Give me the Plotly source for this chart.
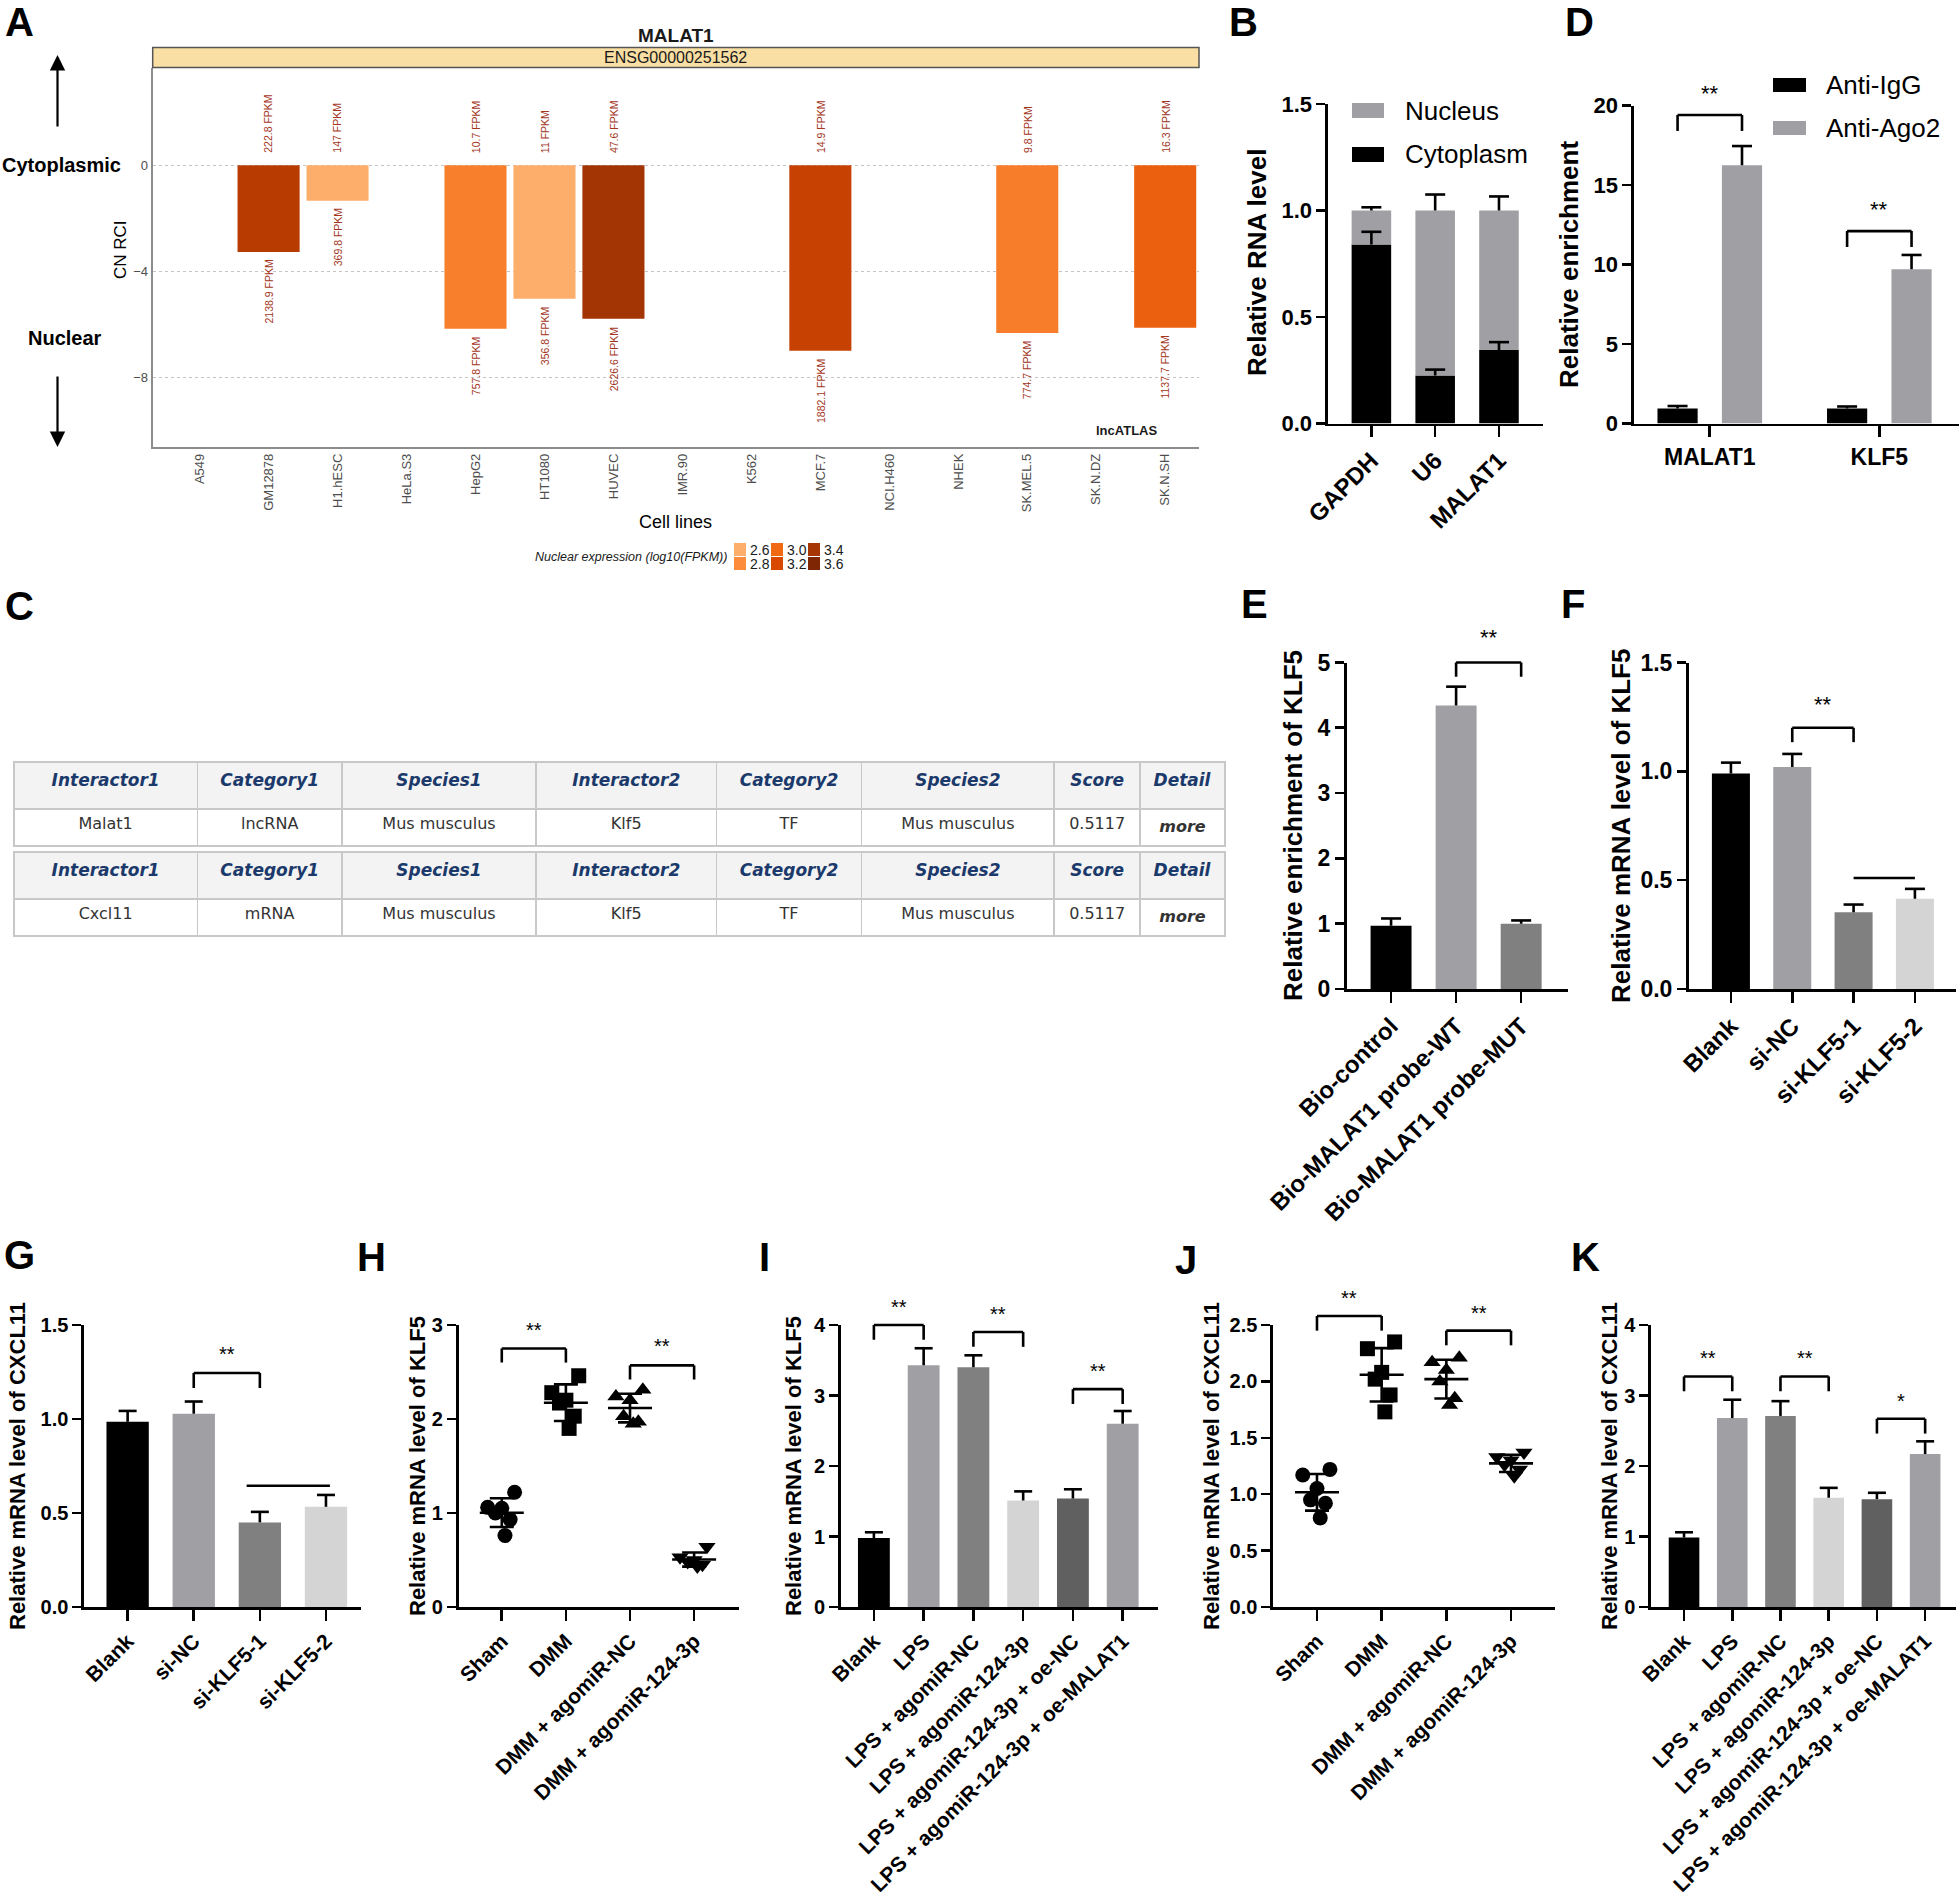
import numpy as np
import plotly.graph_objects as go

W, H = 1960, 1895
FONT = "Liberation Sans, Arial, Helvetica, sans-serif"
TFONT = "DejaVu Sans, Verdana, sans-serif"
LW = 2.6

# ======================= DATA =======================
# Panel A (lncATLAS)
A_cell_lines = ["A549", "GM12878", "H1.hESC", "HeLa.S3", "HepG2", "HT1080", "HUVEC", "IMR.90",
                "K562", "MCF.7", "NCI.H460", "NHEK", "SK.MEL.5", "SK.N.DZ", "SK.N.SH"]
A_cn_rci = [None, -3.27, -1.34, None, -6.16, -5.03, -5.79, None, None, -6.99, None, None, -6.32, None, -6.13]
A_cyto_fpkm = [None, 222.8, 147, None, 10.7, 11, 47.6, None, None, 14.9, None, None, 9.8, None, 16.3]
A_nuc_fpkm = [None, 2138.9, 369.8, None, 757.8, 356.8, 2626.6, None, None, 1882.1, None, None, 774.7, None, 1137.7]
A_legend_breaks = [2.6, 2.8, 3.0, 3.2, 3.4, 3.6]
A_y_ticks = [0, -4, -8]

# Panel B
B_genes = ["GAPDH", "U6", "MALAT1"]
B_series = ["Cytoplasm", "Nucleus"]
B_cytoplasm = [0.84, 0.225, 0.345]
B_cytoplasm_err = [0.06, 0.028, 0.037]
B_nucleus = [0.16, 0.775, 0.655]
B_nucleus_err = [0.015, 0.075, 0.066]

# Panel D
D_targets = ["MALAT1", "KLF5"]
D_series = ["Anti-IgG", "Anti-Ago2"]
D_igg = [0.95, 0.95]
D_igg_err = [0.15, 0.12]
D_ago2 = [16.25, 9.7]
D_ago2_err = [1.2, 0.9]

# Panel C (tables)
C_header = ["Interactor1", "Category1", "Species1", "Interactor2", "Category2", "Species2", "Score", "Detail"]
C_row1 = ["Malat1", "lncRNA", "Mus musculus", "Klf5", "TF", "Mus musculus", "0.5117", "more"]
C_row2 = ["Cxcl11", "mRNA", "Mus musculus", "Klf5", "TF", "Mus musculus", "0.5117", "more"]

# Panel E
E_groups = ["Bio-control", "Bio-MALAT1 probe-WT", "Bio-MALAT1 probe-MUT"]
E_values = [0.97, 4.34, 1.0]
E_err = [0.11, 0.29, 0.05]

# Panel F
F_groups = ["Blank", "si-NC", "si-KLF5-1", "si-KLF5-2"]
F_values = [0.99, 1.02, 0.353, 0.415]
F_err = [0.05, 0.06, 0.035, 0.045]

# Panel G
G_groups = ["Blank", "si-NC", "si-KLF5-1", "si-KLF5-2"]
G_values = [0.985, 1.028, 0.45, 0.533]
G_err = [0.058, 0.065, 0.056, 0.063]

# Panel H (scatter, n=6)
H_groups = ["Sham", "DMM", "DMM + agomiR-NC", "DMM + agomiR-124-3p"]
H_sham = [1.22, 1.06, 1.05, 1.00, 0.93, 0.76]
H_dmm = [2.46, 2.28, 2.20, 2.17, 2.03, 1.90]
H_nc = [2.31, 2.24, 2.20, 2.03, 1.97, 1.95]
H_ago = [0.64, 0.53, 0.50, 0.48, 0.45, 0.43]

# Panel I
I_groups = ["Blank", "LPS", "LPS + agomiR-NC", "LPS + agomiR-124-3p",
            "LPS + agomiR-124-3p + oe-NC", "LPS + agomiR-124-3p + oe-MALAT1"]
I_values = [0.98, 3.43, 3.40, 1.51, 1.54, 2.60]
I_err = [0.08, 0.24, 0.17, 0.13, 0.13, 0.18]

# Panel J (scatter, n=6)
J_groups = ["Sham", "DMM", "DMM + agomiR-NC", "DMM + agomiR-124-3p"]
J_sham = [1.22, 1.17, 1.05, 0.95, 0.92, 0.79]
J_dmm = [2.35, 2.29, 2.08, 2.02, 1.88, 1.73]
J_nc = [2.21, 2.17, 2.10, 2.00, 1.85, 1.79]
J_ago = [1.37, 1.33, 1.30, 1.26, 1.22, 1.16]

# Panel K
K_groups = ["Blank", "LPS", "LPS + agomiR-NC", "LPS + agomiR-124-3p",
            "LPS + agomiR-124-3p + oe-NC", "LPS + agomiR-124-3p + oe-MALAT1"]
K_values = [0.985, 2.68, 2.71, 1.55, 1.53, 2.17]
K_err = [0.075, 0.26, 0.21, 0.14, 0.09, 0.18]

# significance brackets: (group i, group j, level, label)
D_brackets = [(0, 0, 19.4, "**"), (1, 1, 12.1, "**")]
E_brackets = [(1, 2, 5.0, "**")]
F_brackets = [(1, 2, 1.20, "**")]
F_lines = [(2, 3, 0.51)]
G_brackets = [(1, 2, 1.245, "**")]
G_lines = [(2, 3, 0.645)]
H_brackets = [(0, 1, 2.75, "**"), (2, 3, 2.57, "**")]
I_brackets = [(0, 1, 4.0, "**"), (2, 3, 3.9, "**"), (4, 5, 3.09, "**")]
J_brackets = [(0, 1, 2.58, "**"), (2, 3, 2.45, "**")]
K_brackets = [(0, 1, 3.27, "**"), (2, 3, 3.27, "**"), (4, 5, 2.67, "*")]

# ======================= STYLE =======================
A_legend_colors = ["#FDAE6B", "#FD8D3C", "#F16913", "#D94801", "#A63603", "#7F2704"]
BLACK, GRAY, DGRAY, LGRAY, DDGRAY = "#000000", "#A0A0A4", "#808080", "#D4D4D4", "#606060"
E_colors = [BLACK, GRAY, DGRAY]
FG_colors = [BLACK, GRAY, DGRAY, LGRAY]
IK_colors = [BLACK, GRAY, DGRAY, LGRAY, DDGRAY, GRAY]
JITTER = [0.2, -0.22, 0.0, -0.1, 0.13, 0.05]
SYMBOLS = ["circle", "square", "triangle-up", "triangle-down"]
D_OFF = 0.19


def dx(x0, x1):
    return [x0 / W, x1 / W]


def dy(top, bottom):
    return [1 - bottom / H, 1 - top / H]


def px(x):
    return x / W


def py(y):
    return 1 - y / H


fig = go.Figure()
shapes, annotations = [], []
layout = dict(template="none", width=W, height=H, margin=dict(l=0, r=0, t=0, b=0, autoexpand=False),
              paper_bgcolor="white", plot_bgcolor="white", showlegend=False, barmode="overlay",
              font=dict(family=FONT, color="black"))
AXINFO = {}


def ax_names(k):
    s = "" if k == 1 else str(k)
    return "x" + s, "y" + s, "xaxis" + s, "yaxis" + s


def ypaper(k, v):
    (d0, d1), (r0, r1) = AXINFO[k]
    return d0 + (v - r0) / (r1 - r0) * (d1 - d0)


def ann(**kw):
    base = dict(xref="paper", yref="paper", showarrow=False, xanchor="center", yanchor="middle")
    base.update(kw)
    annotations.append(base)


def gp_axes(k, xdom, ydom, xrng, yrng, cats, dtick, fmt, tick_fs, cat_fs, angle):
    xr, yr, xk, yk = ax_names(k)
    AXINFO[k] = (ydom, yrng)
    layout[xk] = dict(domain=xdom, anchor=yr, range=xrng, tickmode="array",
                      tickvals=list(range(len(cats))), automargin=False,
                      ticktext=cats, tickangle=angle, showline=True, linecolor="black", linewidth=LW,
                      ticks="outside", ticklen=11, tickwidth=LW, tickcolor="black", showgrid=False,
                      zeroline=False, fixedrange=True,
                      tickfont=dict(family=FONT, size=cat_fs, color="black", weight="bold"))
    layout[yk] = dict(domain=ydom, anchor=xr, range=yrng, tickmode="linear", tick0=0, dtick=dtick,
                      tickformat=fmt, showline=True, linecolor="black", linewidth=LW, ticks="outside",
                      ticklen=9, tickwidth=LW, tickcolor="black", showgrid=False, zeroline=False,
                      automargin=False, fixedrange=True,
                      tickfont=dict(family=FONT, size=tick_fs, color="black", weight="bold"))


def add_err(k, xs, tops, errs, cap):
    xr, yr, _, _ = ax_names(k)
    fig.add_trace(go.Scatter(
        x=xs, y=[t + e for t, e in zip(tops, errs)], mode="markers", xaxis=xr, yaxis=yr,
        marker=dict(symbol="line-ew", size=2 * cap / 1.4, color="black", line=dict(width=LW, color="black")),
        error_y=dict(type="data", symmetric=False, array=[0] * len(errs), arrayminus=errs,
                     width=0, thickness=LW, color="black"),
        hoverinfo="skip", cliponaxis=False))


def add_bar_panel(k, cats, vals, errs, colors, width, cap):
    xr, yr, _, _ = ax_names(k)
    xs = list(range(len(cats)))
    fig.add_trace(go.Bar(x=xs, y=vals, width=width, marker=dict(color=colors, line=dict(width=0)),
                         xaxis=xr, yaxis=yr, hoverinfo="skip"))
    add_err(k, xs, vals, errs, cap)


def add_bracket(k, x0, x1, y, label, leg, fs, shift):
    xr, yr, _, _ = ax_names(k)
    ln = dict(color="black", width=LW)
    yt, yb = ypaper(k, y), ypaper(k, y - leg)
    shapes.append(dict(type="line", xref=xr, yref="paper", x0=x0, x1=x1, y0=yt, y1=yt, line=ln))
    shapes.append(dict(type="line", xref=xr, yref="paper", x0=x0, x1=x0, y0=yt, y1=yb, line=ln))
    shapes.append(dict(type="line", xref=xr, yref="paper", x0=x1, x1=x1, y0=yt, y1=yb, line=ln))
    annotations.append(dict(xref=xr, yref="paper", x=(x0 + x1) / 2, y=yt, text=label, showarrow=False,
                            xanchor="center", yanchor="middle", yshift=shift,
                            font=dict(family=FONT, size=fs, color="black")))


def add_hline(k, x0, x1, y):
    xr, yr, _, _ = ax_names(k)
    yp = ypaper(k, y)
    shapes.append(dict(type="line", xref=xr, yref="paper", x0=x0, x1=x1, y0=yp, y1=yp,
                       line=dict(color="black", width=LW)))


def ytitle(text, cx, cy, fs):
    ann(x=px(cx), y=py(cy), text="<b>%s</b>" % text, textangle=-90,
        font=dict(family=FONT, size=fs, color="black"))


def letter(t, cx, cy):
    ann(x=px(cx), y=py(cy), text="<b>%s</b>" % t, font=dict(family=FONT, size=40, color="black"))


def scatter_panel(k, groups, series):
    xr, yr, _, _ = ax_names(k)
    for gi, pts in enumerate(series):
        fig.add_trace(go.Scatter(
            x=[gi + JITTER[j] for j in range(len(pts))], y=pts, mode="markers", xaxis=xr, yaxis=yr,
            marker=dict(symbol=SYMBOLS[gi], size=15, color="black", line=dict(width=0)),
            hoverinfo="skip", cliponaxis=False))
    means = [float(np.mean(p)) for p in series]
    sds = [float(np.std(p, ddof=1)) for p in series]
    fig.add_trace(go.Scatter(
        x=list(range(len(groups))), y=means, mode="markers", xaxis=xr, yaxis=yr,
        marker=dict(symbol="line-ew", size=44 / 1.4, color="black", line=dict(width=LW, color="black")),
        error_y=dict(type="data", array=sds, width=12, thickness=LW, color="black"),
        hoverinfo="skip", cliponaxis=False))


# ======================= PANEL A =======================
A_x0, A_x1, A_top, A_bot = 152.7, 1199, 67.5, 446.5
A_colorscale = [[(b - A_legend_breaks[0]) / (A_legend_breaks[-1] - A_legend_breaks[0]), c]
                for b, c in zip(A_legend_breaks, A_legend_colors)]
A_logn = np.array([np.nan if v is None else np.log10(v) for v in A_nuc_fpkm], dtype=float)
A_y = np.array([np.nan if v is None else v for v in A_cn_rci], dtype=float)
fig.add_trace(go.Bar(x=A_cell_lines, y=A_y, width=0.9,
                     marker=dict(color=A_logn, colorscale=A_colorscale, cmin=A_legend_breaks[0],
                                 cmax=A_legend_breaks[-1], line=dict(width=0)),
                     xaxis="x", yaxis="y", hoverinfo="skip"))
layout["xaxis"] = dict(domain=dx(A_x0, A_x1), anchor="y", type="category", range=[-0.68, 14.49],
                       tickangle=-90, showline=True, linecolor="#8C8C8C", linewidth=2, ticks="",
                       showgrid=False, zeroline=False, fixedrange=True, automargin=False,
                       tickfont=dict(family=FONT, size=13, color="#4D4D4D"))
layout["yaxis"] = dict(domain=dy(A_top, A_bot), anchor="x", range=[-10.6, 3.68], tickmode="array",
                       tickvals=A_y_ticks, showline=True, linecolor="#8C8C8C", linewidth=2, ticks="",
                       showgrid=True, gridcolor="#C4C4C4", griddash="dot", gridwidth=1, zeroline=False,
                       fixedrange=True, automargin=False, tickfont=dict(family=FONT, size=13, color="#4D4D4D"))
for cl, r, c, n in zip(A_cell_lines, A_cn_rci, A_cyto_fpkm, A_nuc_fpkm):
    if r is None:
        continue
    annotations.append(dict(xref="x", yref="y", x=cl, y=0, text="%g FPKM" % c, textangle=-90,
                            showarrow=False, xanchor="center", yanchor="bottom", yshift=10,
                            font=dict(family=FONT, size=10.5, color="#A3361D")))
    annotations.append(dict(xref="x", yref="y", x=cl, y=r, text="%g FPKM" % n, textangle=-90,
                            showarrow=False, xanchor="center", yanchor="top", yshift=-6,
                            font=dict(family=FONT, size=10.5, color="#A3361D")))
shapes.append(dict(type="rect", xref="paper", yref="paper", x0=px(A_x0), x1=px(A_x1), y0=py(67.5), y1=py(47.5),
                   fillcolor="#F9DFA3", line=dict(color="#555555", width=1.5)))
ann(x=px((A_x0 + A_x1) / 2), y=py(57.5), text="ENSG00000251562", font=dict(family=FONT, size=16, color="#1a1a1a"))
ann(x=px((A_x0 + A_x1) / 2), y=py(35), text="<b>MALAT1</b>", font=dict(family=FONT, size=19, color="#1a1a1a"))
ann(x=px(61.5), y=py(165), text="<b>Cytoplasmic</b>", font=dict(family=FONT, size=20, color="black"))
ann(x=px(65), y=py(338), text="<b>Nuclear</b>", font=dict(family=FONT, size=20, color="black"))
ann(x=px(121), y=py(250), text="CN RCI", textangle=-90, font=dict(family=FONT, size=17, color="black"))
ann(x=px(675), y=py(522), text="Cell lines", font=dict(family=FONT, size=18, color="black"))
ann(x=px(1126), y=py(431), text="<b>lncATLAS</b>", font=dict(family=FONT, size=13, color="#1a1a1a"))
ann(x=px(729), y=py(557), text="<i>Nuclear expression (log10(FPKM))</i>", xanchor="right",
    font=dict(family=FONT, size=12.5, color="#1a1a1a"))
ann(x=px(57.5), y=py(55), ax=0, ay=73, axref="pixel", ayref="pixel", text="", showarrow=True,
    arrowhead=2, arrowsize=1.4, arrowwidth=2.2, arrowcolor="black")
ann(x=px(57.5), y=py(447), ax=0, ay=-72, axref="pixel", ayref="pixel", text="", showarrow=True,
    arrowhead=2, arrowsize=1.4, arrowwidth=2.2, arrowcolor="black")
for i, (b, c) in enumerate(zip(A_legend_breaks, A_legend_colors)):
    col, row = i // 2, i % 2
    sx = 734 + col * 37
    sy = 543 + row * 14
    shapes.append(dict(type="rect", xref="paper", yref="paper", x0=px(sx), x1=px(sx + 12),
                       y0=py(sy + 13), y1=py(sy), fillcolor=c, line=dict(width=0)))
    ann(x=px(sx + 14), y=py(sy + 6.5), text="%.1f" % b, xanchor="left",
        font=dict(family=FONT, size=14, color="#1a1a1a"))

# ======================= PANEL B =======================
gp_axes(2, dx(1328, 1543), dy(104, 423.5), [-0.68, 2.69], [0, 1.5], B_genes, 0.5, ".1f", 22, 24, -45)
xsB = list(range(len(B_genes)))
fig.add_trace(go.Bar(x=xsB, y=B_cytoplasm, width=0.62, marker=dict(color=BLACK, line=dict(width=0)),
                     name=B_series[0], xaxis="x2", yaxis="y2", hoverinfo="skip"))
fig.add_trace(go.Bar(x=xsB, y=B_nucleus, base=B_cytoplasm, width=0.62,
                     marker=dict(color=GRAY, line=dict(width=0)), name=B_series[1],
                     xaxis="x2", yaxis="y2", hoverinfo="skip"))
add_err(2, xsB, B_cytoplasm, B_cytoplasm_err, 10)
add_err(2, xsB, [a + b for a, b in zip(B_cytoplasm, B_nucleus)], B_nucleus_err, 10)
for name, color, ytop in [(B_series[1], GRAY, 103), (B_series[0], BLACK, 147)]:
    shapes.append(dict(type="rect", xref="paper", yref="paper", x0=px(1352), x1=px(1384),
                       y0=py(ytop + 15), y1=py(ytop), fillcolor=color, line=dict(width=0)))
    ann(x=px(1403), y=py(ytop + 7.5), text=name, xanchor="left", font=dict(family=FONT, size=26, color="black"))
ytitle("Relative RNA level", 1257, 263, 26)

# ======================= PANEL D =======================
gp_axes(3, dx(1634, 1958.5), dy(105.5, 423.5), [-0.447, 1.467], [0, 20], D_targets, 5, "d", 22, 23, 0)
xsD = list(range(len(D_targets)))
for vals, errs, color, sgn, nm in [(D_igg, D_igg_err, BLACK, -1, D_series[0]),
                                   (D_ago2, D_ago2_err, GRAY, 1, D_series[1])]:
    xx = [x + sgn * D_OFF for x in xsD]
    fig.add_trace(go.Bar(x=xx, y=vals, width=0.237, marker=dict(color=color, line=dict(width=0)),
                         name=nm, xaxis="x3", yaxis="y3", hoverinfo="skip"))
    add_err(3, xx, vals, errs, 10)
for gi, _, lev, lab in D_brackets:
    add_bracket(3, gi - D_OFF, gi + D_OFF, lev, lab, 1.0, 22, 22)
for name, color, ytop in [(D_series[0], BLACK, 78), (D_series[1], GRAY, 121)]:
    shapes.append(dict(type="rect", xref="paper", yref="paper", x0=px(1773), x1=px(1806),
                       y0=py(ytop + 14), y1=py(ytop), fillcolor=color, line=dict(width=0)))
    ann(x=px(1824), y=py(ytop + 7), text=name, xanchor="left", font=dict(family=FONT, size=26, color="black"))
ytitle("Relative enrichment", 1569, 265, 26)

# ======================= PANEL C (tables) =======================
col_w = [183.5, 145, 194, 181, 145, 193, 86, 85]


def fmt_cell(col, v):
    return "<b><i>%s</i></b>" % v if col == "Detail" else v


for row, (ttop, tbot) in zip([C_row1, C_row2], [(762, 850), (852, 942)]):
    fig.add_trace(go.Table(
        domain=dict(x=dx(14, 1225), y=dy(ttop, tbot)), columnwidth=col_w,
        header=dict(values=["<b><i>%s</i></b>" % h for h in C_header], height=47,
                    fill_color="#F3F3F3", line=dict(color="#C8C8C8", width=1.5), align="center",
                    font=dict(family=TFONT, size=17, color="#1B3A6B")),
        cells=dict(values=[[fmt_cell(h, v)] for h, v in zip(C_header, row)], height=37,
                   fill_color="white", line=dict(color="#C8C8C8", width=1.5), align="center",
                   font=dict(family=TFONT, size=16, color="#333333"))))

# ======================= PANEL E =======================
gp_axes(4, dx(1346.5, 1568), dy(662.5, 989), [-0.685, 2.72], [0, 5], E_groups, 1, "d", 23, 24, -45)
add_bar_panel(4, E_groups, E_values, E_err, E_colors, 0.63, 10)
for i, j, lev, lab in E_brackets:
    add_bracket(4, i, j, lev, lab, 0.22, 22, 25)
ytitle("Relative enrichment of KLF5", 1293, 826, 26)

# ======================= PANEL F =======================
gp_axes(5, dx(1688.6, 1956), dy(662.5, 989), [-0.69, 3.67], [0, 1.5], F_groups, 0.5, ".1f", 23, 24, -45)
add_bar_panel(5, F_groups, F_values, F_err, FG_colors, 0.62, 10)
for i, j, lev, lab in F_brackets:
    add_bracket(5, i, j, lev, lab, 0.066, 22, 23)
for i, j, lev in F_lines:
    add_hline(5, i, j, lev)
ytitle("Relative mRNA level of KLF5", 1621, 826, 26)

# ======================= PANEL G =======================
BOT_TOP, BOT_BOT = 1325, 1607
gp_axes(6, dx(84, 361), dy(BOT_TOP, BOT_BOT), [-0.66, 3.53], [0, 1.5], G_groups, 0.5, ".1f", 20, 21, -45)
add_bar_panel(6, G_groups, G_values, G_err, FG_colors, 0.64, 9)
for i, j, lev, lab in G_brackets:
    add_bracket(6, i, j, lev, lab, 0.08, 20, 19)
for i, j, lev in G_lines:
    add_hline(6, i - 0.2, j + 0.06, lev)
ytitle("Relative mRNA level of CXCL11", 17, 1466, 22)

# ======================= PANEL H =======================
gp_axes(7, dx(458.5, 739), dy(BOT_TOP, BOT_BOT), [-0.675, 3.7], [0, 3], H_groups, 1, "d", 20, 21, -45)
scatter_panel(7, H_groups, [H_sham, H_dmm, H_nc, H_ago])
for i, j, lev, lab in H_brackets:
    add_bracket(7, i, j, lev, lab, 0.15, 20, 19)
ytitle("Relative mRNA level of KLF5", 417, 1466, 22)

# ======================= PANEL I =======================
gp_axes(8, dx(840.8, 1158), dy(BOT_TOP, BOT_BOT), [-0.665, 5.71], [0, 4], I_groups, 1, "d", 20, 21, -45)
add_bar_panel(8, I_groups, I_values, I_err, IK_colors, 0.64, 9)
for i, j, lev, lab in I_brackets:
    add_bracket(8, i, j, lev, lab, 0.21, 20, 18)
ytitle("Relative mRNA level of KLF5", 793, 1466, 22)

# ======================= PANEL J =======================
gp_axes(9, dx(1273, 1555), dy(BOT_TOP, BOT_BOT), [-0.68, 3.68], [0, 2.5], J_groups, 0.5, ".1f", 20, 21, -45)
scatter_panel(9, J_groups, [J_sham, J_dmm, J_nc, J_ago])
for i, j, lev, lab in J_brackets:
    add_bracket(9, i, j, lev, lab, 0.13, 20, 18)
ytitle("Relative mRNA level of CXCL11", 1211, 1466, 22)

# ======================= PANEL K =======================
gp_axes(10, dx(1651, 1956), dy(BOT_TOP, BOT_BOT), [-0.685, 5.64], [0, 4], K_groups, 1, "d", 20, 21, -45)
add_bar_panel(10, K_groups, K_values, K_err, IK_colors, 0.635, 9)
for i, j, lev, lab in K_brackets:
    add_bracket(10, i, j, lev, lab, 0.21, 20, 18)
ytitle("Relative mRNA level of CXCL11", 1609, 1466, 22)

# ======================= PANEL LETTERS =======================
for t, cx, cy in [("A", 19, 22), ("B", 1243, 22), ("C", 19, 606), ("D", 1579, 22), ("E", 1254, 604),
                  ("F", 1573, 604), ("G", 19, 1255), ("H", 371, 1257), ("I", 764, 1257),
                  ("J", 1186, 1260), ("K", 1585, 1257)]:
    letter(t, cx, cy)

layout["shapes"] = shapes
layout["annotations"] = annotations
fig.update_layout(**layout)
fig.write_html("out.html", config={"displayModeBar": False, "staticPlot": True},
               post_script="document.body.style.margin='0px';document.body.style.overflow='hidden';")
